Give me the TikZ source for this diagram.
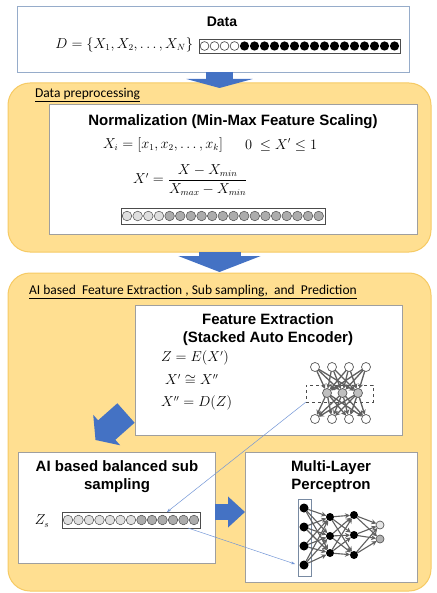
\documentclass[tikz,border=0pt]{standalone}
\usepackage{amsmath}
\usepackage{amssymb}
\usepackage{fontspec}
\setmainfont{Liberation Sans}
\newfontfamily\calibri{Carlito}
\usetikzlibrary{arrows.meta, positioning, calc}

\definecolor{panelfill}{RGB}{255,223,145}
\definecolor{paneldraw}{RGB}{246,202,100}
\definecolor{blockblue}{RGB}{68,114,196}
\definecolor{linkblue}{RGB}{115,150,215}
\definecolor{databorder}{RGB}{150,172,202}

\begin{document}
\begin{tikzpicture}[
    x=1pt, y=-1pt,
    every node/.style={inner sep=0pt, outer sep=0pt},
    panel/.style={rectangle, rounded corners=22pt, draw=paneldraw, fill=panelfill, line width=1pt},
    card/.style={rectangle, draw=gray!75, fill=white, line width=0.6pt},
    title/.style={font=\fontsize{15}{18}\selectfont\bfseries, align=center},
    heading/.style={font=\calibri\fontsize{13.5}{16}\selectfont, anchor=west},
    eq/.style={font=\fontsize{13.5}{16}\selectfont, anchor=west},
    bar/.style={rectangle, draw=gray!60!black, fill=white, line width=0.6pt},
    unit/.style={circle, draw=gray!70!black, fill=white, minimum size=9pt, line width=0.7pt},
    hid/.style={unit, fill=gray!50},
    neuron/.style={circle, fill=black, minimum size=9pt},
    wire/.style={draw=gray!75!black, line width=1.3pt, -{Stealth[length=5pt,width=5pt]}},
    link/.style={draw=linkblue, line width=0.5pt, -{Stealth[length=4pt,width=3pt]}},
    ccarrow/.style={blockblue}
]
\useasboundingbox (0,0) rectangle (436,593);

% --- Data ---
\node[card, draw=databorder, minimum width=392pt, minimum height=66pt] (data) at (213,39) {};
\node[title, font=\fontsize{14}{16}\selectfont\bfseries] (datatitle) at (222,22) {Data};
\node[eq, anchor=east] (dataset) at (193,45) {$D=\{X_1,X_2,\ldots,X_N\}$};
\node[bar, minimum width=201pt, minimum height=14pt] (databar) at (299.5,46) {};
\foreach \i in {0,...,3}
  \draw[gray!50!black, fill=white, line width=0.6pt] ($(databar.west)+(5.5+10*\i,0)$) circle (4.4pt);
\foreach \i in {4,...,19}
  \fill[black] ($(databar.west)+(5.5+10*\i,0)$) circle (4.6pt);

% --- Data preprocessing ---
\node[panel, minimum width=423pt, minimum height=169pt] (prep) at (219.5,167.5) {};
\node[heading] (prephead) at (35,95) {\underline{Data preprocessing}};
\node[card, minimum width=368pt, minimum height=130pt] (norm) at (233,169) {};
\node[title] (normtitle) at (233,122) {Normalization (Min-Max Feature Scaling)};
\node[eq] (xi) at (103,145) {$X_i=[x_1,x_2,\ldots,x_k]$};
\node[eq] (range) at (245,145) {$0\ \leq X'\leq 1$};
\node[eq] (minmax) at (133,180) {$X'=\dfrac{X-X_{min}}{X_{max}-X_{min}}$};
\node[bar, minimum width=204pt, minimum height=16pt] (normbar) at (223,216) {};
\foreach \i in {0,...,3}
  \draw[gray!60!black, fill=gray!25, line width=0.5pt] ($(normbar.west)+(6+10.65*\i,0)$) circle (4.8pt);
\foreach \i in {4,...,18}
  \draw[gray!60!black, fill=gray!65, line width=0.5pt] ($(normbar.west)+(6+10.65*\i,0)$) circle (4.8pt);

\draw[ccarrow, line width=27pt, -{Triangle[length=9pt,width=66pt]}] (data.south -| prep.north) -- ++(0,16);

% --- AI based feature extraction, sub sampling and prediction ---
\node[panel, minimum width=423pt, minimum height=318pt] (ai) at (219.5,432) {};
\draw[ccarrow, line width=42pt, -{Triangle[length=16pt,width=82pt]}] (prep.south) -- ++(0,20);
\node[heading] (aihead) at (29,292) {\underline{AI based\ \ Feature Extraction , Sub sampling,\ \ and\ \ Prediction}};

% feature extraction
\node[card, minimum width=267pt, minimum height=130pt] (fe) at (268.5,370) {};
\node[title] (fetitle) at (268,330) {Feature Extraction\\(Stacked Auto Encoder)};
\node[eq] (enc) at (161,358) {$Z=E(X')$};
\node[eq] (approx) at (165,380) {$X'\cong X''$};
\node[eq] (dec) at (161,403) {$X''=D(Z)$};

\node[rectangle, draw=gray!60!black, dashed, line width=0.6pt, minimum width=67pt, minimum height=17pt] (aebox) at (339.5,393.5) {};
\foreach \n/\x in {1/315,2/332,3/349,4/366} {
  \node[unit] (ae-t\n) at (\x,367) {};
  \node[unit] (ae-b\n) at (\x,419) {};
}
\foreach \n/\x in {1/327,2/342.5,3/358}
  \node[hid] (ae-m\n) at (\x,393) {};
\foreach \a in {1,...,4}
  \foreach \b in {1,...,3} {
    \draw[wire] (ae-t\a) -- (ae-m\b);
    \draw[wire] (ae-m\b) -- (ae-b\a);
  }

% balanced sub sampling
\node[card, minimum width=197pt, minimum height=111pt] (sub) at (116.5,507.5) {};
\node[title] (subtitle) at (117,477) {AI based balanced sub\\sampling};
\node[eq, anchor=center] (zs) at (42,521) {$Z_s$};
\node[bar, minimum width=138pt, minimum height=16pt] (subbar) at (131,520) {};
\foreach \i in {0,...,6}
  \draw[gray!60!black, fill=gray!25, line width=0.5pt] ($(subbar.west)+(6+10.5*\i,0)$) circle (4.8pt);
\foreach \i in {7,...,12}
  \draw[gray!60!black, fill=gray!65, line width=0.5pt] ($(subbar.west)+(6+10.5*\i,0)$) circle (4.8pt);

\draw[ccarrow, line width=26pt, -{Triangle[length=15pt,width=40pt]}] ($(fe.south west)+(-9,-22)$) -- ($(sub.north)+(-21,-12)$);

% multi-layer perceptron
\node[card, minimum width=172pt, minimum height=130pt] (mlp) at (331,517) {};
\node[title] (mlptitle) at (331,477) {Multi-Layer\\Perceptron};
\node[rectangle, draw=databorder!80!black, line width=0.6pt, minimum width=13pt, minimum height=77pt] (mlpin) at (304.5,537.5) {};
\foreach \n/\y in {1/508,2/527,3/546,4/565}
  \node[neuron] (in\n) at (304,\y) {};
\foreach \n/\y in {1/517,2/536,3/553}
  \node[neuron, minimum size=8pt] (ha\n) at (330,\y) {};
\foreach \n/\y in {1/515,2/535,3/555}
  \node[neuron, minimum size=8pt] (hb\n) at (354,\y) {};
\node[unit, fill=gray!20, minimum size=8pt] (out1) at (380,525) {};
\node[unit, fill=gray!60, minimum size=8pt] (out2) at (380,539) {};
\foreach \a in {1,...,4}
  \foreach \b in {1,...,3}
    \draw[wire, line width=1.1pt] (in\a) -- (ha\b);
\foreach \a in {1,...,3}
  \foreach \b in {1,...,3}
    \draw[wire, line width=1.1pt] (ha\a) -- (hb\b);
\foreach \a in {1,...,3}
  \foreach \b in {1,2}
    \draw[wire, line width=1.1pt] (hb\a) -- (out\b);

\draw[ccarrow, line width=16pt, -{Triangle[length=17pt,width=30pt]}] (sub.east |- subbar.north) -- (mlp.west |- subbar.north);

% --- links ---
\draw[link] (aebox.south west) -- ($(subbar.north west)+(105,0)$);
\draw[link] ($(subbar.south west)+(126,0)$) -- ($(mlpin.south west)+(-3,-12)$);
\end{tikzpicture}
\end{document}
